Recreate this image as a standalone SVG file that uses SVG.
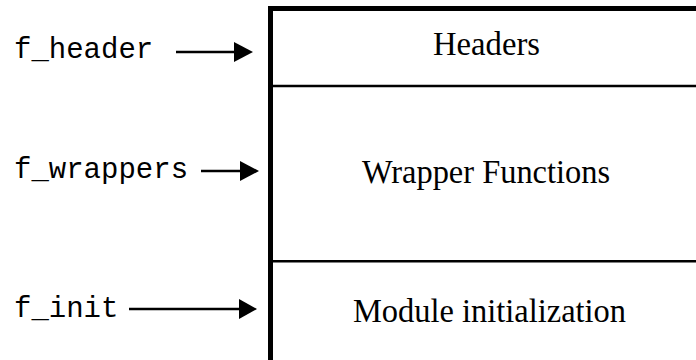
<svg xmlns="http://www.w3.org/2000/svg" width="696" height="360" viewBox="0 0 696 360">
  <defs>
    <style>
      .lbl { font-family: "Liberation Mono", "Courier New", monospace; font-size: 29px; fill: #000; }
      .sec { font-family: "Liberation Serif", "Times New Roman", serif; font-size: 33px; fill: #000; }
      .box { fill: #fff; stroke: #000; stroke-width: 5; }
      .div { stroke: #000; stroke-width: 2.5; fill: none; }
      .arr { stroke: #000; stroke-width: 2.5; fill: none; }
      .hd { fill: #000; }
    </style>
  </defs>
  <rect width="696" height="360" fill="#fff"/>

  <g id="module">
    <rect class="box" x="270.5" y="8.5" width="434" height="354"/>
    <line class="div" x1="273" y1="86" x2="696" y2="86"/>
    <line class="div" x1="273" y1="261.2" x2="696" y2="261.2"/>
  </g>
  <g id="headers">
    <text class="sec" x="433" y="55" textLength="107" lengthAdjust="spacingAndGlyphs">Headers</text>
  </g>
  <g id="wrappers">
    <text class="sec" x="362" y="183" textLength="248" lengthAdjust="spacingAndGlyphs">Wrapper Functions</text>
  </g>
  <g id="init">
    <text class="sec" x="353" y="322" textLength="273" lengthAdjust="spacingAndGlyphs">Module initialization</text>
  </g>

  <g id="f_header">
    <text class="lbl" x="14" y="58">f_header</text>
  </g>
  <g id="f_wrappers">
    <text class="lbl" x="14" y="178">f_wrappers</text>
  </g>
  <g id="f_init">
    <text class="lbl" x="14" y="317">f_init</text>
  </g>

  <g id="connectors">
    <line class="arr" x1="176" y1="52" x2="236" y2="52"/>
    <polygon class="hd" points="234,42 253,52 234,62"/>
    <line class="arr" x1="201" y1="171" x2="242" y2="171"/>
    <polygon class="hd" points="240,161 259,171 240,181"/>
    <line class="arr" x1="129" y1="309" x2="241" y2="309"/>
    <polygon class="hd" points="239,299 257,309 239,319"/>
  </g>
</svg>
